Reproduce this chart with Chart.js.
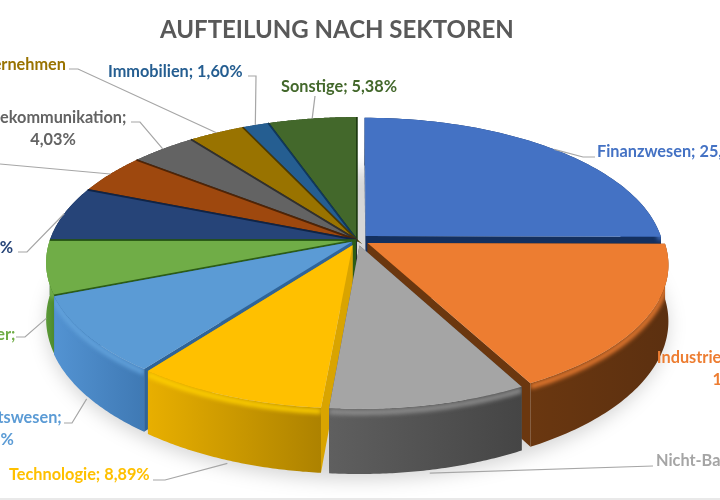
<!DOCTYPE html>
<html lang="de">
<head>
<meta charset="utf-8">
<title>Aufteilung nach Sektoren</title>
<script src="https://cdn.jsdelivr.net/npm/chart.js@4"></script>
<style>
  html, body { margin: 0; padding: 0; background: #fff; }
  #wrap { width: 720px; height: 500px; position: relative; overflow: hidden; }
  #rule { position: absolute; left: 0; right: 0; bottom: 0; height: 2px; background: #e9e9e9; }
</style>
</head>
<body>
<div id="wrap">
  <canvas id="chart" width="720" height="500"></canvas>
  <div id="rule"></div>
</div>
<script>
const sectors = ['Finanzwesen', 'Industrieunternehmen', 'Nicht-Basiskonsumgüter', 'Technologie', 'Gesundheitswesen',
  'Basiskonsumgüter', 'Energie', 'Grundstoffe', 'Telekommunikation', 'Versorgungsunternehmen', 'Immobilien', 'Sonstige']
const shares = [25.10, 17.10, 9.20, 8.89, 8.71, 6.00, 6.10, 4.49, 4.03, 3.40, 1.60, 5.38]

const topColors = ['#4472C4', '#ED7D31', '#A5A5A5', '#FFC000', '#5B9BD5', '#70AD47', '#264478', '#9E480E', '#636363', '#997300', '#255E91', '#43682B']
const faceColors = ['#14305f', '#6b370f', '#5a5a5a', '#d9a400', '#2f6499', '#2c5c17', '#0f2447', '#4f2406', '#303030', '#4d3a00', '#10375c', '#1e3a10']
const wallLeft = ['#14305f', '#6a3710', '#5f5f5f', '#e8af00', '#5393d2', '#5c9a38', '#1b3156', '#6e3209', '#444444', '#6b5100', '#1a4266', '#2f491e']
const wallRight = ['#14305f', '#5c3010', '#454545', '#ad8200', '#3f79b4', '#4d8a2c', '#1b3156', '#6e3209', '#444444', '#6b5100', '#1a4266', '#2f491e']
const rimColors = ['#4472C4', '#ED7D31', '#8f8f8f', '#ffd000', '#63a3dc', '#78b34f', '#264478', '#9E480E', '#636363', '#997300', '#255E91', '#43682B']
const explode = [4, 4, 4, 4, 2, 0.3, 0.2, 0.2, 0.2, 0.2, 0.2, 0.2]

// text lines per sector, x/y anchor and alignment of the data labels
const labelLines = [
  ['Finanzwesen; 25,10%'], ['Industrieunternehmen;', '17,10%'], ['Nicht-Basiskonsumgüter; 9,20%'], ['Technologie; 8,89%'],
  ['Gesundheitswesen;', '8,71%'], ['Basiskonsumgüter;', '6,00%'], ['Energie; 6,10%'], [],
  ['Telekommunikation;', '4,03%'], ['Versorgungsunternehmen'], ['Immobilien; 1,60%'], ['Sonstige; 5,38%']
]
const labelAnchors = [
  [597, 152, 'left'], [740, 358, 'center'], [656, 461, 'left'], [9, 475, 'left'],
  [-9, 418, 'center'], [-53, 335, 'center'], [13, 248, 'right'], [0, 0, 'left'],
  [53, 118, 'center'], [66, 65, 'right'], [108, 72, 'left'], [281, 87, 'left']
]
// leader line elbows from the label towards the slice, and how far down the wall it ends
const leaderElbows = [
  [[595, 157], [583, 157]], [], [[653, 466]], [[153, 480], [165, 480]],
  [[64, 423], [72, 423]], [[16, 337], [25, 337]], [[18, 252], [27, 252]], [[0, 164]],
  [[131, 122], [140, 122]], [[69, 69], [78, 69]], [[248, 76], [256, 76]], [[315, 96]]
]
const leaderDepth = [0, 0, 1.05, 1.05, 1.05, 0.9, 0, 0, 0, 0, 0, 0]

// oblique view of the pie plane; perspective makes the near half larger
const view = { cx: 357, cy: 240, rx: 307, ry: 142, depth: 55, persp: 0.155 }

function project(u, v, h) {
  const w = 1 - view.persp * v
  return [view.cx + view.rx * u / w, view.cy + (view.ry * v + h) / w]
}

function sliceGeometry(arc) {
  const { startAngle, endAngle } = arc.getProps(['startAngle', 'endAngle'], true)
  const mid = (startAngle + endAngle) / 2
  const off = arc.options.offset / 100
  const scale = 1 - off * 0.875
  const ox = Math.cos(mid) * off
  const oy = Math.sin(mid) * off
  const at = (a, h) => project(Math.cos(a) * scale + ox, Math.sin(a) * scale + oy, h)
  const rim = h => {
    const pts = []
    const steps = 64
    for (let i = 0; i <= steps; i++) pts.push(at(startAngle + (endAngle - startAngle) * i / steps, h))
    return pts
  }
  return { startAngle, endAngle, mid, ox, oy, off, at, rim }
}

function tracePath(ctx, pts) {
  ctx.beginPath()
  pts.forEach((p, i) => i ? ctx.lineTo(p[0], p[1]) : ctx.moveTo(p[0], p[1]))
}

function fillPoly(ctx, pts, style) {
  tracePath(ctx, pts)
  ctx.closePath()
  ctx.fillStyle = style
  ctx.fill()
}

function drawSlice(ctx, arc, i) {
  const g = sliceGeometry(arc)
  const top = g.rim(0)
  const bottom = g.rim(view.depth)
  const apexTop = project(g.ox, g.oy, 0)
  const apexBottom = project(g.ox, g.oy, view.depth)

  // cut faces
  const last = top.length - 1
  fillPoly(ctx, [apexTop, top[0], bottom[0], apexBottom], faceColors[i])
  fillPoly(ctx, [apexTop, top[last], bottom[last], apexBottom], faceColors[i])

  // outer wall
  const wall = top.concat(bottom.slice().reverse())
  const xs = top.map(p => p[0])
  const grad = ctx.createLinearGradient(Math.min(...xs), 0, Math.max(...xs), 0)
  grad.addColorStop(0, wallLeft[i])
  grad.addColorStop(1, wallRight[i])
  fillPoly(ctx, wall, grad)

  // soft rounded edge between wall and top, near half only
  const nearRim = []
  for (let s = 0; s <= 64; s++) {
    const a = g.startAngle + (g.endAngle - g.startAngle) * s / 64
    if (Math.sin(a) > -0.05) nearRim.push(g.at(a, 3))
  }
  if (nearRim.length > 1) {
    ctx.save()
    tracePath(ctx, wall)
    ctx.closePath()
    ctx.clip()
    ctx.filter = 'blur(2px)'
    tracePath(ctx, nearRim)
    ctx.lineWidth = 5
    ctx.strokeStyle = rimColors[i]
    ctx.stroke()
    ctx.restore()
  }

  // top surface
  fillPoly(ctx, [apexTop].concat(top), topColors[i])

  // hairline joints between the slices that stay in the pie
  if (g.off < 0.02) {
    tracePath(ctx, [top[0], apexTop, top[last]])
    ctx.strokeStyle = faceColors[i]
    ctx.lineWidth = 1.7
    ctx.stroke()
  }
}

const pie3d = {
  id: 'pie3d',
  beforeDatasetDraw(chart, args) {
    const ctx = chart.ctx
    const arcs = chart.getDatasetMeta(args.index).data

    // soft shadow on the ground under the pie
    ctx.save()
    ctx.filter = 'blur(9px)'
    const ring = []
    for (let s = 0; s <= 120; s++) {
      const a = s / 120 * Math.PI * 2
      ring.push(project(Math.cos(a), Math.sin(a), view.depth + 6))
    }
    fillPoly(ctx, ring, 'rgba(0,0,0,0.16)')
    ctx.restore()

    // far slices first so nearer ones overlap them
    const order = arcs.map((arc, i) => i)
    const depthOf = i => Math.sin(sliceGeometry(arcs[i]).mid)
    order.sort((a, b) => depthOf(a) - depthOf(b))
    order.forEach(i => drawSlice(ctx, arcs[i], i))

    // labels and leaders
    arcs.forEach((arc, i) => {
      const g = sliceGeometry(arc)
      const elbows = leaderElbows[i]
      if (elbows.length) {
        tracePath(ctx, elbows.concat([g.at(g.mid, view.depth * leaderDepth[i])]))
        ctx.strokeStyle = '#a6a6a6'
        ctx.lineWidth = 1.2
        ctx.stroke()
      }
      const [x, y, align] = labelAnchors[i]
      ctx.font = 'bold 16.3px Lato'
      ctx.fillStyle = topColors[i]
      ctx.textAlign = align
      ctx.textBaseline = 'middle'
      labelLines[i].forEach((line, k) => ctx.fillText(line, x, y + k * 22))
    })
    return false
  }
}

new Chart(document.getElementById('chart'), {
  type: 'pie',
  data: {
    labels: sectors,
    datasets: [{
      data: shares,
      backgroundColor: topColors,
      offset: explode,
      borderWidth: 0
    }]
  },
  options: {
    responsive: false,
    animation: false,
    layout: { padding: { left: 160 } },
    plugins: {
      legend: { display: false },
      tooltip: { enabled: false },
      title: {
        display: true,
        text: 'AUFTEILUNG NACH SEKTOREN',
        align: 'start',
        color: '#595959',
        font: { family: 'Lato', size: 24, weight: 'bold' },
        padding: { top: 16, bottom: 10 }
      }
    }
  },
  plugins: [pie3d]
})
</script>
</body>
</html>
